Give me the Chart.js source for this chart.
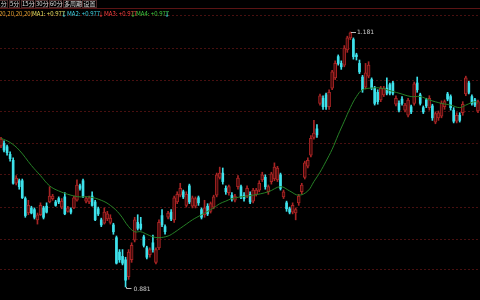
<!DOCTYPE html>
<html><head><meta charset="utf-8">
<script src="https://cdn.jsdelivr.net/npm/chart.js@4/dist/chart.umd.min.js"></script>
<style>
html,body{margin:0;padding:0;background:#000;width:480px;height:300px;overflow:hidden}
#wrap{position:relative;width:480px;height:300px}
#c{position:absolute;left:0;top:0}
.hd{position:absolute;white-space:nowrap;font-family:"Noto Sans CJK SC","DejaVu Sans",sans-serif;font-size:6px;line-height:7px}
.bt{top:0;height:8px;border:1px solid #4a2a2a;color:#ddd;text-align:center;box-sizing:border-box;line-height:6px}
#bar{position:absolute;left:0;top:8px;width:480px;height:0;border-top:1px solid #5a1414}
.r2{top:10px}
</style></head>
<body><div id="wrap">
<canvas id="c" width="480" height="300"></canvas>
<div id="bar"></div>
<span class="hd bt" style="left:-4px;width:12px">1分</span>
<span class="hd bt" style="left:9px;width:11px">5分</span>
<span class="hd bt" style="left:21px;width:13px">15分</span>
<span class="hd bt" style="left:35px;width:13px">30分</span>
<span class="hd bt" style="left:49px;width:13px">60分</span>
<span class="hd bt" style="left:63px;width:18px">多周期</span>
<span class="hd bt" style="left:82px;width:15px">设置</span>
<span class="hd r2" style="left:-1px;color:#e0a030">20,20,20,20)</span>
<span class="hd r2" style="left:32px;color:#e6e060">MA1: +0.977</span>
<span class="hd r2" style="left:61px;color:#40d8e8">↓MA2: +0.977</span>
<span class="hd r2" style="left:98px;color:#ff4040">↓MA3: +0.977</span>
<span class="hd r2" style="left:130px;color:#40d040">↓MA4: +0.977</span>
<span class="hd r2" style="left:164px;color:#40d8e8">↓</span>
</div>
<script>
const open = [
1.047,1.050,1.046,1.037,1.030,1.003,1.006,1.006,0.985,0.968,
0.974,0.972,0.960,0.966,0.974,0.976,0.981,0.985,0.981,0.985,
0.975,0.987,0.970,0.972,0.974,0.983,1.000,1.006,0.982,0.981,
0.988,0.981,0.973,0.960,0.956,0.961,0.957,0.954,0.939,0.922,
0.917,0.913,0.893,0.913,0.936,0.957,0.955,0.940,0.927,0.919,
0.933,0.910,0.927,0.965,0.952,0.963,0.969,0.960,0.981,0.989,
0.993,0.977,1.000,0.976,0.976,0.986,0.972,0.966,0.976,0.970,
0.975,0.989,1.010,1.015,0.997,0.992,0.989,0.983,0.999,0.999,
0.989,0.988,0.990,0.982,0.990,0.995,1.007,1.010,0.993,1.005,
1.008,1.007,1.013,0.987,0.980,0.973,0.969,0.968,0.980,0.993,
1.010,1.023,1.036,1.057,1.067,1.097,1.103,1.107,1.093,1.115,
1.127,1.152,1.144,1.142,1.160,1.174,1.172,1.154,1.144,1.128,
1.116,1.129,1.125,1.115,1.110,1.101,1.107,1.115,1.119,1.121,
1.096,1.097,1.102,1.089,1.083,1.093,1.097,1.121,1.107,1.092,
1.101,1.092,1.094,1.075,1.080,1.082,1.093,1.108,1.105,1.089,
1.076,1.083,1.086,1.108,1.121,1.105,1.101,1.088];
const close = [
1.055,1.042,1.039,1.032,1.003,1.009,0.999,0.986,0.965,0.977,
0.968,0.963,0.966,0.977,0.963,0.969,0.988,0.988,0.977,0.981,
0.982,0.967,0.974,0.969,0.986,1.001,0.997,0.988,0.985,0.986,
0.977,0.960,0.967,0.954,0.969,0.967,0.962,0.946,0.909,0.913,
0.909,0.889,0.922,0.930,0.960,0.950,0.950,0.930,0.916,0.925,
0.925,0.925,0.957,0.954,0.946,0.968,0.961,0.986,0.990,0.997,
0.987,0.990,0.981,0.986,0.985,0.980,0.963,0.974,0.967,0.979,
0.987,1.013,1.015,1.005,0.993,0.999,0.985,0.988,1.009,0.987,
0.985,0.997,0.981,0.995,0.995,1.003,1.013,0.999,0.999,1.014,
1.022,1.021,0.997,0.993,0.973,0.969,0.977,0.972,0.988,1.001,
1.027,1.030,1.056,1.062,1.060,1.106,1.093,1.093,1.110,1.134,
1.144,1.144,1.140,1.162,1.174,1.180,1.152,1.152,1.134,1.113,
1.133,1.142,1.115,1.097,1.099,1.115,1.115,1.109,1.109,1.109,
1.103,1.089,1.097,1.095,1.101,1.087,1.120,1.113,1.097,1.087,
1.094,1.103,1.080,1.085,1.086,1.097,1.099,1.102,1.092,1.076,
1.083,1.077,1.096,1.127,1.110,1.097,1.095,1.099];
const high = [
1.057,1.053,1.048,1.040,1.033,1.012,1.008,1.008,0.987,0.983,
0.976,0.974,0.968,0.980,0.976,0.980,0.999,0.990,0.983,0.987,
0.985,0.992,0.976,0.974,0.988,1.007,1.002,1.008,0.987,0.988,
0.993,0.983,0.975,0.962,0.974,0.970,0.966,0.956,0.941,0.925,
0.925,0.916,0.925,0.933,0.963,0.966,0.963,0.942,0.929,0.927,
0.942,0.927,0.960,0.972,0.954,0.970,0.972,0.988,0.993,1.003,
0.995,0.993,1.002,0.988,0.987,0.988,0.974,0.983,0.979,0.981,
0.989,1.015,1.022,1.021,1.000,1.001,0.992,0.990,1.012,1.001,
0.992,1.000,0.993,0.997,0.997,1.006,1.016,1.013,1.001,1.016,
1.027,1.023,1.015,0.995,0.982,0.975,0.980,0.974,0.990,1.003,
1.029,1.033,1.059,1.077,1.072,1.108,1.106,1.109,1.113,1.136,
1.147,1.154,1.147,1.165,1.176,1.181,1.174,1.156,1.148,1.130,
1.144,1.146,1.127,1.117,1.113,1.117,1.117,1.127,1.121,1.123,
1.106,1.100,1.105,1.097,1.103,1.095,1.122,1.128,1.109,1.094,
1.103,1.106,1.096,1.087,1.088,1.100,1.101,1.110,1.107,1.092,
1.086,1.086,1.099,1.129,1.123,1.107,1.103,1.101];
const low = [
1.045,1.040,1.036,1.029,1.002,1.001,0.996,0.985,0.963,0.966,
0.967,0.961,0.955,0.965,0.961,0.968,0.980,0.983,0.976,0.979,
0.973,0.966,0.969,0.967,0.973,0.982,0.995,0.986,0.980,0.979,
0.976,0.959,0.965,0.952,0.955,0.959,0.955,0.943,0.908,0.910,
0.907,0.881,0.890,0.910,0.934,0.948,0.948,0.928,0.914,0.916,
0.922,0.908,0.925,0.952,0.943,0.961,0.959,0.957,0.979,0.987,
0.985,0.975,0.979,0.974,0.974,0.977,0.961,0.963,0.965,0.968,
0.973,0.987,1.008,1.002,0.990,0.989,0.982,0.981,0.996,0.985,
0.982,0.986,0.979,0.980,0.988,0.993,1.005,0.996,0.990,1.002,
1.006,1.005,0.995,0.985,0.970,0.967,0.967,0.960,0.977,0.990,
1.008,1.021,1.034,1.055,1.057,1.095,1.090,1.090,1.090,1.113,
1.125,1.142,1.137,1.140,1.157,1.172,1.149,1.148,1.132,1.110,
1.114,1.127,1.113,1.095,1.096,1.099,1.105,1.107,1.107,1.107,
1.094,1.087,1.095,1.087,1.081,1.085,1.095,1.110,1.095,1.085,
1.092,1.089,1.077,1.073,1.077,1.080,1.090,1.100,1.089,1.074,
1.074,1.075,1.083,1.106,1.108,1.095,1.093,1.086];
const maIdx = [0,3,6,10,13,16,19,23,26,29,33,36,39,42,44,46,48,50,52,55,57,59,61,63,66,68,70,72,74,76,79,83,88,92,95,98,101,103,105,107,109,111,113,115,117,119,122,125,128,131,135,138,141,145,148,151,153,156,157];
const maVal = [1.056,1.051,1.042,1.024,1.012,1.000,0.994,0.989,0.987,0.987,0.983,0.977,0.967,0.952,0.946,0.946,0.943,0.940,0.939,0.941,0.945,0.950,0.955,0.960,0.966,0.970,0.974,0.979,0.982,0.985,0.987,0.989,0.993,0.999,0.994,0.989,0.994,1.005,1.016,1.029,1.043,1.060,1.076,1.092,1.105,1.113,1.115,1.115,1.112,1.109,1.105,1.105,1.101,1.097,1.095,1.092,1.095,1.099,1.097];
const gridVals = [1.200,1.162,1.124,1.087,1.050,1.013,0.975,0.937,0.901];

const UP = 'rgb(168,36,36)', UPFILL = 'rgb(70,12,12)', DN = 'rgb(62,226,236)';
const idx = open.map((_, i) => i);
const isUp = i => close[i] >= open[i];
const ups = idx.filter(isUp), dns = idx.filter(i => !isUp(i));

const labelPlugin = {
  id: 'hilo',
  afterDatasetsDraw(chart) {
    const c = chart.ctx, xs = chart.scales.x, ys = chart.scales.y;
    let hi = 0, lo = 0;
    idx.forEach(i => { if (high[i] > high[hi]) hi = i; if (low[i] < low[lo]) lo = i; });
    c.save();
    c.strokeStyle = '#bbb'; c.fillStyle = '#ccc'; c.lineWidth = 1;
    c.font = '6px "DejaVu Sans", sans-serif'; c.textBaseline = 'middle';
    let x = Math.round(xs.getPixelForValue(hi)), y = Math.round(ys.getPixelForValue(high[hi])) + 0.5;
    c.beginPath(); c.moveTo(x + 1, y); c.lineTo(x + 6, y); c.stroke();
    c.fillText(high[hi].toFixed(3), x + 7, y);
    x = Math.round(xs.getPixelForValue(lo)) + 0.5; y = Math.round(ys.getPixelForValue(low[lo]));
    c.beginPath(); c.moveTo(x, y); c.lineTo(x, y + 1.5); c.lineTo(x + 5, y + 1.5); c.stroke();
    c.fillText(low[lo].toFixed(3), x + 7, y + 2);
    c.restore();
  }
};

new Chart(document.getElementById('c'), {
  type: 'bar',
  data: {
    datasets: [
      { type: 'line', data: maIdx.map((x, k) => ({x, y: maVal[k]})), borderColor: 'rgb(38,128,38)', borderWidth: 1, pointRadius: 0, tension: 0.4, order: 0 },
      { data: ups.map(i => ({x: i, y: [open[i], close[i]]})), backgroundColor: UPFILL, borderColor: UP, borderWidth: 1, borderSkipped: false, barThickness: 3, grouped: false, minBarLength: 1, order: 1 },
      { data: dns.map(i => ({x: i, y: [open[i], close[i]]})), backgroundColor: DN, borderWidth: 0, barThickness: 2, grouped: false, minBarLength: 1, order: 1 },
      { data: ups.map(i => ({x: i, y: [low[i], high[i]]})), backgroundColor: UP, borderWidth: 0, barThickness: 1, grouped: false, order: 2 },
      { data: dns.map(i => ({x: i, y: [low[i], high[i]]})), backgroundColor: DN, borderWidth: 0, barThickness: 1, grouped: false, order: 2 }
    ]
  },
  options: {
    animation: false, responsive: false, maintainAspectRatio: false,
    layout: { padding: 0 },
    plugins: { legend: { display: false }, tooltip: { enabled: false } },
    scales: {
      x: { type: 'linear', min: -0.33, max: 157.67, display: false, offset: false },
      y: { min: 0.8657, max: 1.2186,
           afterBuildTicks: s => { s.ticks = gridVals.map(v => ({value: v})); },
           ticks: { display: false },
           grid: { color: 'rgb(72,16,16)', drawTicks: false, lineWidth: 1 },
           border: { display: false, dash: [2, 2] } }
    }
  },
  plugins: [labelPlugin]
});
</script>
</body></html>
